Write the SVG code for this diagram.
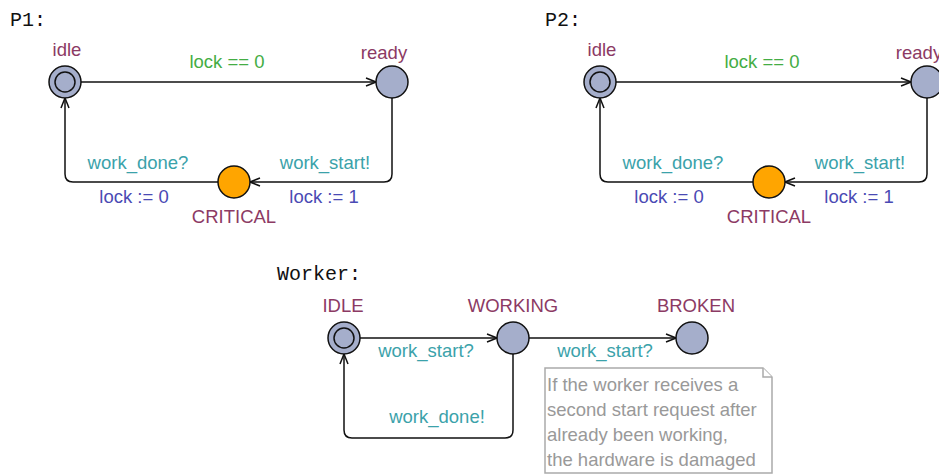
<svg xmlns="http://www.w3.org/2000/svg" width="939" height="474" viewBox="0 0 939 474">
<style>
text{font-family:"Liberation Sans",Arial,sans-serif;font-size:18.5px}
.t{font-family:"Liberation Mono","Courier New",monospace;font-size:20px;fill:#111}
.loc{fill:#8c3a64;text-anchor:middle}
.g{fill:#44ad44;text-anchor:middle}
.s{fill:#3ba2aa;text-anchor:middle}
.u{fill:#4a4ab4;text-anchor:middle}
.n{fill:#a5aecb;stroke:#111;stroke-width:1.5}
.c{fill:#ffa500;stroke:#111;stroke-width:1.5}
.i{fill:none;stroke:#111;stroke-width:1.5}
.e{fill:none;stroke:#111;stroke-width:1.5;marker-end:url(#a)}
.note{fill:#fff;stroke:#aaa;stroke-width:1.5}
.nt{fill:#999;font-size:18.5px}
</style>
<defs>
<marker id="a" viewBox="0 0 12 10" refX="11" refY="5" markerWidth="12" markerHeight="10" markerUnits="userSpaceOnUse" orient="auto">
<path d="M1,1 L11,5 L1,9" fill="none" stroke="#111" stroke-width="1.5"/>
</marker>
</defs>
<text class="t" x="10" y="26">P1:</text>
<text class="t" x="545" y="26">P2:</text>
<text class="t" x="277" y="280">Worker:</text>
<g id="connectors">
<path class="e" d="M81,82 L376,82"/>
<path class="e" d="M392,98 L392,174 Q392,182 384,182 L250,182"/>
<path class="e" d="M218,182 L73,182 Q65,182 65,174 L65,98"/>
<path class="e" d="M616,82 L911,82"/>
<path class="e" d="M927,98 L927,174 Q927,182 919,182 L785,182"/>
<path class="e" d="M753,182 L608,182 Q600,182 600,174 L600,98"/>
<path class="e" d="M360,338 L497,338"/>
<path class="e" d="M529,338 L676,338"/>
<path class="e" d="M513,354 L513,430 Q513,438 505,438 L352,438 Q344,438 344,430 L344,354"/>
<text class="g" x="227" y="68">lock == 0</text>
<text class="s" x="138" y="169">work_done?</text>
<text class="s" x="325" y="169">work_start!</text>
<text class="u" x="134" y="203">lock := 0</text>
<text class="u" x="324" y="203">lock := 1</text>
<text class="g" x="762" y="68">lock == 0</text>
<text class="s" x="673" y="169">work_done?</text>
<text class="s" x="860" y="169">work_start!</text>
<text class="u" x="669" y="203">lock := 0</text>
<text class="u" x="859" y="203">lock := 1</text>
<text class="s" x="426" y="357">work_start?</text>
<text class="s" x="605" y="357">work_start?</text>
<text class="s" x="437" y="423">work_done!</text>
</g>
<g id="p1_idle"><circle class="n" cx="65" cy="82" r="16"/><circle class="i" cx="65" cy="82" r="10"/><text class="loc" x="67" y="56">idle</text></g>
<g id="p1_ready"><circle class="n" cx="392" cy="82" r="16"/><text class="loc" x="384" y="59">ready</text></g>
<g id="p1_critical"><circle class="c" cx="234" cy="182" r="16"/><text class="loc" x="234" y="223">CRITICAL</text></g>
<g id="p2_idle"><circle class="n" cx="600" cy="82" r="16"/><circle class="i" cx="600" cy="82" r="10"/><text class="loc" x="602" y="56">idle</text></g>
<g id="p2_ready"><circle class="n" cx="927" cy="82" r="16"/><text class="loc" x="919" y="59">ready</text></g>
<g id="p2_critical"><circle class="c" cx="769" cy="182" r="16"/><text class="loc" x="769" y="223">CRITICAL</text></g>
<g id="w_idle"><circle class="n" cx="344" cy="338" r="16"/><circle class="i" cx="344" cy="338" r="10"/><text class="loc" x="343" y="312">IDLE</text></g>
<g id="w_working"><circle class="n" cx="513" cy="338" r="16"/><text class="loc" x="513" y="312">WORKING</text></g>
<g id="w_broken"><circle class="n" cx="692" cy="338" r="16"/><text class="loc" x="696" y="312">BROKEN</text></g>
<g id="note">
<path class="note" d="M545,368 L763,368 L772,377 L772,473 L545,473 Z"/>
<path class="note" d="M763,368 L763,377 L772,377"/>
<text class="nt" x="547" y="391">If the worker receives a</text>
<text class="nt" x="547" y="416">second start request after</text>
<text class="nt" x="547" y="441">already been working,</text>
<text class="nt" x="547" y="466">the hardware is damaged</text>
</g>
</svg>
